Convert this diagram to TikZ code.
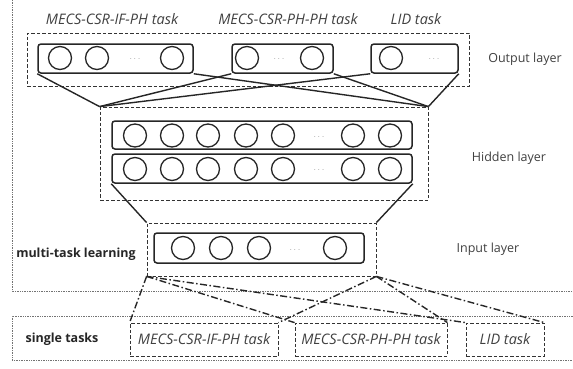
\documentclass[tikz,border=0pt]{standalone}
\usepackage{fontspec}
\setmainfont{Open Sans}
\begin{document}
\begin{tikzpicture}[x=1pt,y=-1pt,
  layerbox/.style={draw=black!80,dash pattern=on 3.5pt off 2pt,line width=0.8pt,inner sep=0pt},
  unitrow/.style={draw=black!85,rounded corners=3pt,line width=1.5pt,inner sep=0pt},
  neuron/.style={circle,draw=black!85,line width=1.3pt,minimum size=23pt,inner sep=0pt},
  link/.style={draw=black!85,line width=1.4pt},
  tasklink/.style={draw=black!85,line width=1.4pt,dash pattern=on 7pt off 2.5pt on 1.5pt off 2.5pt},
  framebox/.style={draw=black!55,dash pattern=on 0.8pt off 0.9pt,line width=0.5pt},
  lbl/.style={font=\fontsize{12.5}{14}\selectfont,text=black!75},
  tasklbl/.style={font=\fontsize{14.5}{16}\selectfont\itshape,text=black!75},
  boldlbl/.style={font=\fontsize{12.5}{14}\selectfont\bfseries,text=black!85},
  dotslbl/.style={font=\small,text=black!55,inner sep=0pt}
]

\useasboundingbox (0,0) rectangle (573,368);

%=================================================
% FRAMES
%=================================================

\draw[framebox]
(12,0)--(12,291)--(573,291);

\draw[framebox]
(573,316)--(12,316)--(12,360)--(573,360);

\node[boldlbl] (mtl) at (76,254) {multi-task learning};

\node[boldlbl] (stl) at (62,339) {single tasks};

%=================================================
% OUTPUT LAYER
%=================================================

\node[layerbox,minimum width=442pt,minimum height=53pt]
(outlayer) at (248,59.5) {};

\node[unitrow,minimum width=155pt,minimum height=29pt]
(g1) at (115.5,58.5) {};
\node[unitrow,minimum width=101pt,minimum height=29pt]
(g2) at (282.5,58.5) {};
\node[unitrow,minimum width=87pt,minimum height=29pt]
(g3) at (414.5,58.5) {};

\foreach \x in {60,97,172}
{
\node[neuron] (o1-\x) at (\x,58) {};
}
\node[dotslbl] (o1dots) at (135,59) {$\ldots$};

\foreach \x in {247,312}
{
\node[neuron] (o2-\x) at (\x,58) {};
}
\node[dotslbl] (o2dots) at (279,59) {$\ldots$};

\node[neuron] (o3-391) at (391,58) {};
\node[dotslbl] (o3dots) at (434,59) {$\ldots$};

\node[tasklbl] (g1lbl) at (112,19) {MECS-CSR-IF-PH task};
\node[tasklbl] (g2lbl) at (288,19) {MECS-CSR-PH-PH task};
\node[tasklbl] (g3lbl) at (416,19) {LID task};

\node[lbl] (outlbl) at (525,59) {Output layer};

%=================================================
% HIDDEN LAYER
%=================================================

\node[layerbox,minimum width=328pt,minimum height=93pt]
(hidlayer) at (264,153.5) {};

\node[unitrow,minimum width=300pt,minimum height=28pt]
(hrow1) at (262,135) {};
\node[unitrow,minimum width=300pt,minimum height=29pt]
(hrow2) at (262,168.5) {};

\foreach \x in {135,172,208,246,283,353,390}
{
\node[neuron] (h1-\x) at (\x,135.5) {};
\node[neuron] (h2-\x) at (\x,169) {};
}
\node[dotslbl] (h1dots) at (319,137) {$\ldots$};
\node[dotslbl] (h2dots) at (319,170) {$\ldots$};

\node[lbl] (hidlbl) at (509,158) {Hidden layer};

% output groups to hidden layer
\foreach \g in {g1,g2,g3}
{
\draw[link] (hidlayer.north west)--(\g.south west);
\draw[link] (hidlayer.north east)--(\g.south east);
}

%=================================================
% INPUT LAYER
%=================================================

\node[layerbox,minimum width=229pt,minimum height=53pt]
(inlayer) at (261.5,249.5) {};

\node[unitrow,minimum width=210pt,minimum height=30pt]
(inrow) at (259,248) {};

\foreach \x in {183,221,259,335}
{
\node[neuron] (i-\x) at (\x,248) {};
}
\node[dotslbl] (idots) at (295,250) {$\ldots$};

\node[lbl] (inlbl) at (488,249) {Input layer};

\draw[link] (hrow2.south west)--(inlayer.north west);
\draw[link] (hrow2.south east)--(inlayer.north east);

%=================================================
% SINGLE TASKS
%=================================================

\node[layerbox,minimum width=148pt,minimum height=33pt]
(t1) at (204,339.5) {};
\node[layerbox,minimum width=152pt,minimum height=33pt]
(t2) at (371,339.5) {};
\node[layerbox,minimum width=78pt,minimum height=33pt]
(t3) at (505,339.5) {};

\node[tasklbl] (t1lbl) at (t1.center) {MECS-CSR-IF-PH task};
\node[tasklbl] (t2lbl) at (t2.center) {MECS-CSR-PH-PH task};
\node[tasklbl] (t3lbl) at (t3.center) {LID task};

\foreach \t in {t1,t2,t3}
{
\draw[tasklink] (inlayer.south west)--(\t.north west);
\draw[tasklink] (inlayer.south east)--(\t.north east);
}

\end{tikzpicture}
\end{document}
